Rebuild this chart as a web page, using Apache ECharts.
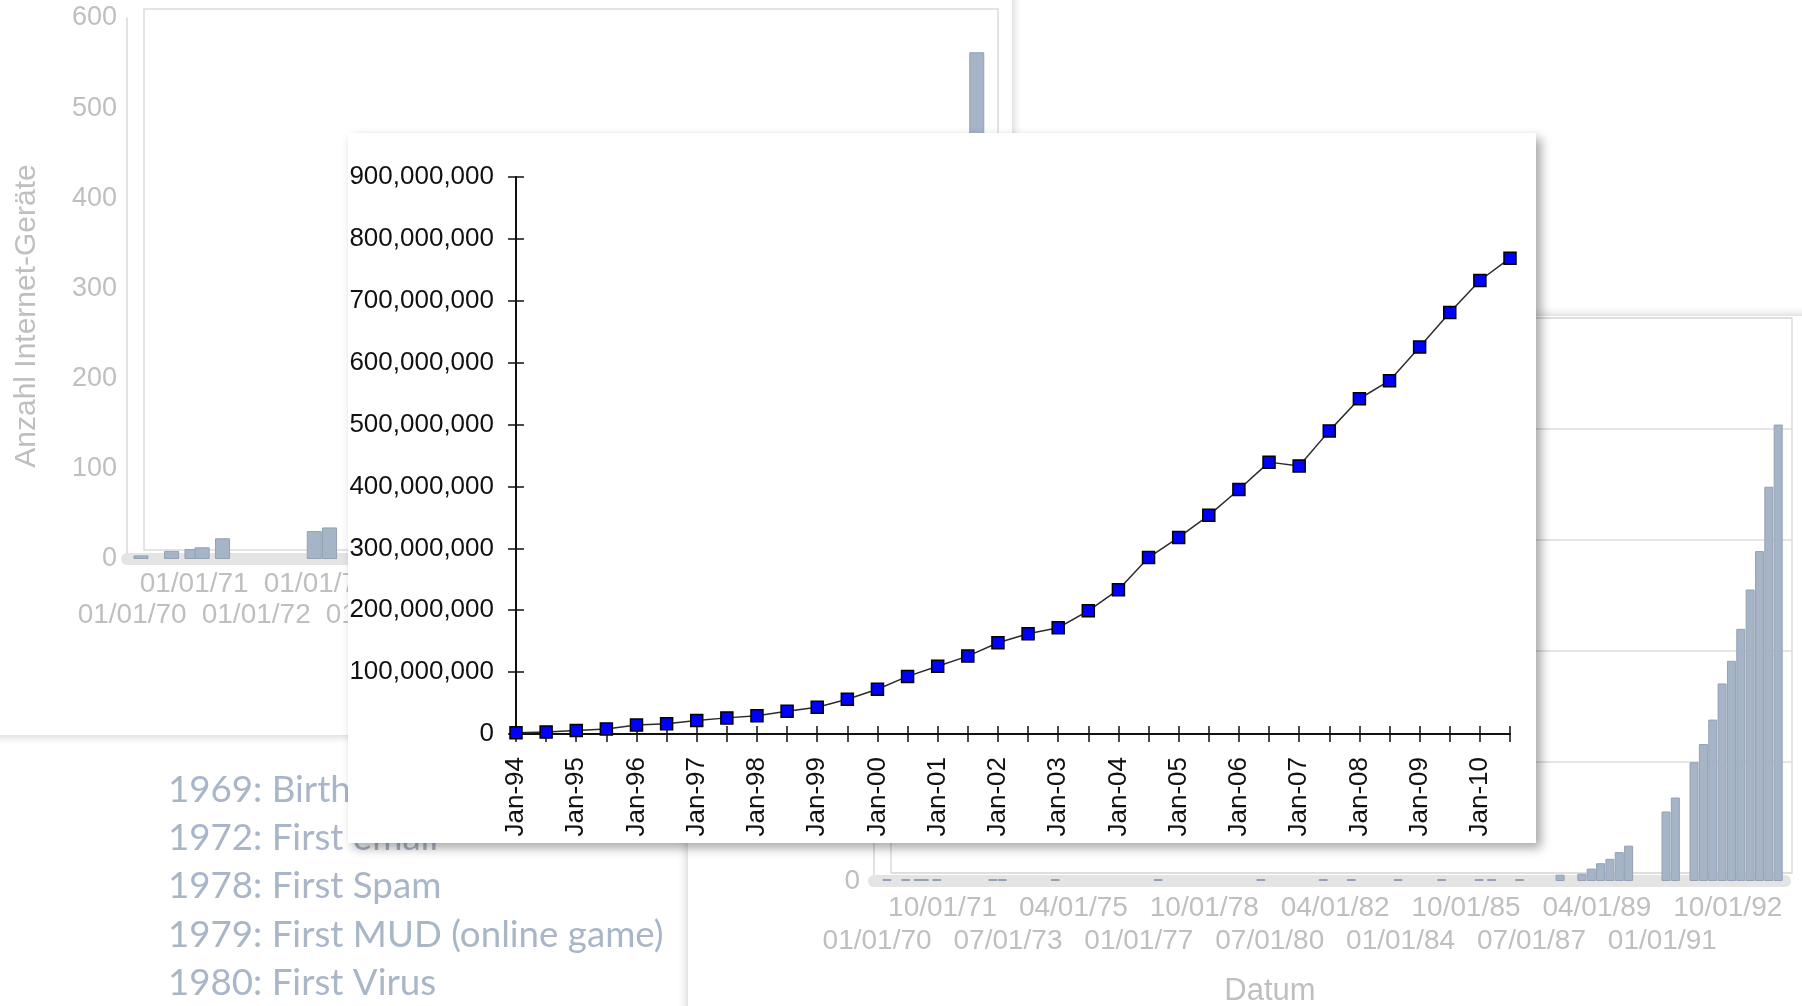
<!DOCTYPE html>
<html>
<head>
<meta charset="utf-8">
<script src="https://cdn.jsdelivr.net/npm/echarts@6/dist/echarts.min.js"></script>
<style>
  html, body { margin: 0; padding: 0; background: #ffffff; }
  #chart { width: 1802px; height: 1006px; }
</style>
</head>
<body>
<div id="chart"></div>
<script>
// Internet hosts, half-yearly survey counts 1994-2010
const periods = ['Jan-94','Jul-94','Jan-95','Jul-95','Jan-96','Jul-96','Jan-97','Jul-97','Jan-98','Jul-98',
  'Jan-99','Jul-99','Jan-00','Jul-00','Jan-01','Jul-01','Jan-02','Jul-02','Jan-03','Jul-03',
  'Jan-04','Jul-04','Jan-05','Jul-05','Jan-06','Jul-06','Jan-07','Jul-07','Jan-08','Jul-08',
  'Jan-09','Jul-09','Jan-10','Jul-10'];
const hostCounts = [2217000, 3212000, 5846000, 8200000, 14352000, 16729000, 21819000, 26053000, 29670000, 36739000,
  43230000, 56218000, 72398000, 93048000, 109574000, 125888000, 147345000, 162128000, 171638000, 199000000,
  233101000, 285139000, 317646000, 353284000, 394992000, 439286000, 433193000, 489774000, 541677000, 570938000,
  625226000, 681065000, 732740000, 768913000];

// Early host counts (ARPANET era up to 1993), dates as MM/YY
const surveyDates = ['12/69','06/70','10/70','12/70','04/71','10/72','01/73','06/74','03/77','12/79',
  '08/81','05/82','08/83','10/84','10/85','02/86','11/86','12/87','07/88','10/88',
  '01/89','04/89','07/89','10/89','10/90','01/91','07/91','10/91','01/92','04/92',
  '07/92','10/92','01/93','04/93','07/93','10/93'];
const surveyHosts = [4, 9, 11, 13, 23, 31, 35, 62, 111, 188,
  213, 235, 562, 1024, 1961, 2308, 5089, 28174, 33000, 56000,
  80000, 100000, 130000, 159000, 313000, 376000, 535000, 617000, 727000, 890000,
  992000, 1136000, 1313000, 1486000, 1776000, 2056000];
const arpanetCount = 13; // the small chart only runs up to 08/83

// Date tick labels of the two bar charts
const leftTickDates = ['01/70','01/71','01/72','01/73','01/74','01/75','01/76','01/77','01/78','01/79','01/80','01/81','01/82','01/83'];
const rightTickDates = ['01/70','10/71','07/73','04/75','01/77','10/78','07/80','04/82','01/84','10/85','07/87','04/89','01/91','10/92'];

const milestones = ['1969: Birth', '1972: First email', '1978: First Spam', '1979: First MUD (online game)', '1980: First Virus'];

const toYear = d => { const p = d.split('/').map(Number); return 1900 + p[1] + (p[0] - 1) / 12; };
const firstYear = toYear(surveyDates[0]);
const dateText = d => { const p = d.split('/'); return p[0] + '/01/' + p[1]; };

// the date labels are staggered on two rows: even ticks below, odd ticks above
const evenTicks = ticks => ticks.filter((_, i) => i % 2 === 0);
const oddTicks = ticks => ticks.filter((_, i) => i % 2 === 1);
function labelFor(ticks) {
  const vals = ticks.map(toYear);
  return v => {
    const i = vals.findIndex(t => Math.abs(t - v) < 1e-6);
    return i < 0 ? '' : dateText(ticks[i]);
  };
}

const sans = 'Liberation Sans, Arial, sans-serif';
const faint = '#bfbfbf';
const barStyle = { color: '#a5b4c7', borderColor: '#93a1b2', borderWidth: 1 };
const hidden = (extra) => Object.assign({ show: false }, extra);
const floorLine = { show: true, lineStyle: { color: '#e4e4e4', width: 12 } };

function dateRow(grid, max, ticks, margin, lineHeight, withFloor) {
  return {
    gridIndex: grid, type: 'value', min: firstYear, max: max, z: 1, position: 'bottom', offset: 0,
    axisLine: withFloor ? floorLine : { show: false },
    axisTick: { show: false }, splitLine: { show: false },
    axisLabel: { customValues: ticks.map(toYear), formatter: labelFor(ticks),
      showMinLabel: true, showMaxLabel: true,
      color: faint, fontSize: 28, lineHeight: lineHeight, margin: margin, fontFamily: sans }
  };
}

const earlyBars = surveyDates.slice(0, arpanetCount).map((d, i) => [toYear(d), surveyHosts[i]]);
const allBars = surveyDates.map((d, i) => [toYear(d), surveyHosts[i]]);

const chart = echarts.init(document.getElementById('chart'));

chart.setOption({
  animation: false,
  backgroundColor: '#ffffff',
  grid: [
    // small bar chart, front plane / back wall / bars
    { left: 127, top: 18, width: 861, height: 541, show: false, z: 1 },
    { left: 144, top: 9, width: 854, height: 541, show: true, borderColor: '#dcdcdc', borderWidth: 1.5, backgroundColor: 'transparent', z: 1 },
    { left: 141, top: 18, width: 849, height: 541, show: false, z: 1 },
    // large bar chart, front plane / back wall / bars
    { left: 874, top: 326, width: 911, height: 555, show: false, z: 1 },
    { left: 891, top: 318, width: 901, height: 555, show: true, borderColor: '#dcdcdc', borderWidth: 1.5, backgroundColor: 'transparent', z: 1 },
    { left: 887, top: 326, width: 911, height: 555, show: false, z: 1 },
    // host count line chart
    { left: 516, top: 177, width: 994, height: 557, show: false, z: 5 }
  ],
  xAxis: [
    dateRow(0, 1983.8, oddTicks(leftTickDates), 9.5, 31, true),
    dateRow(0, 1983.8, evenTicks(leftTickDates), 40.5, 31, false),
    hidden({ gridIndex: 1, type: 'value', min: firstYear, max: 1983.8 }),
    hidden({ gridIndex: 2, type: 'value', min: firstYear, max: 1983.8 }),
    dateRow(3, 1994.28, oddTicks(rightTickDates), 10, 34, true),
    dateRow(3, 1994.28, evenTicks(rightTickDates), 43.6, 34, false),
    hidden({ gridIndex: 4, type: 'value', min: firstYear, max: 1994.28 }),
    hidden({ gridIndex: 5, type: 'value', min: firstYear, max: 1994.28 }),
    { gridIndex: 6, type: 'category', data: periods, boundaryGap: false, z: 6, position: 'bottom',
      axisLine: { show: true, lineStyle: { color: '#111111', width: 2 } },
      axisTick: { show: true, interval: 0, length: 8, lineStyle: { color: '#111111', width: 1.5 } },
      axisLabel: { interval: 1, rotate: 90, margin: 23, fontSize: 26, color: '#111111', fontFamily: sans },
      splitLine: { show: false } },
    { gridIndex: 6, type: 'category', data: periods, boundaryGap: false, z: 6, position: 'bottom', offset: 0,
      axisLine: { show: false },
      axisTick: { show: true, inside: true, interval: 0, length: 8, lineStyle: { color: '#111111', width: 1.5 } },
      axisLabel: { show: false }, splitLine: { show: false } }
  ],
  yAxis: [
    { gridIndex: 0, type: 'value', min: 0, max: 600, interval: 100, z: 1, position: 'left',
      axisLine: { show: true, lineStyle: { color: '#d9d9d9', width: 1.5 } },
      axisTick: { show: false }, splitLine: { show: false },
      axisLabel: { color: faint, fontSize: 27, margin: 10, fontFamily: sans } },
    hidden({ gridIndex: 1, type: 'value', min: 0, max: 600 }),
    hidden({ gridIndex: 2, type: 'value', min: 0, max: 600 }),
    { gridIndex: 3, type: 'value', min: 0, max: 2500000, interval: 500000, z: 1, position: 'left',
      axisLine: { show: true, lineStyle: { color: '#d9d9d9', width: 1.5 } },
      axisTick: { show: false }, splitLine: { show: false },
      axisLabel: { color: faint, fontSize: 28, margin: 14, fontFamily: sans } },
    { gridIndex: 4, type: 'value', min: 0, max: 2500000, interval: 500000, z: 1,
      axisLine: { show: false }, axisTick: { show: false }, axisLabel: { show: false },
      splitLine: { show: true, lineStyle: { color: '#dcdcdc', width: 1.5 } } },
    hidden({ gridIndex: 5, type: 'value', min: 0, max: 2500000 }),
    { gridIndex: 6, type: 'value', min: 0, max: 900000000, interval: 100000000, z: 6, position: 'left',
      axisLine: { show: true, lineStyle: { color: '#111111', width: 2 } },
      axisTick: { show: true, length: 8, lineStyle: { color: '#111111', width: 1.5 } },
      axisLabel: { margin: 22, fontSize: 26, color: '#111111', fontFamily: sans,
        formatter: v => v.toLocaleString('en-US') },
      splitLine: { show: false } },
    { gridIndex: 6, type: 'value', min: 0, max: 900000000, interval: 100000000, z: 6, position: 'left', offset: 0,
      axisLine: { show: false },
      axisTick: { show: true, inside: true, length: 8, lineStyle: { color: '#111111', width: 1.5 } },
      axisLabel: { show: false }, splitLine: { show: false } }
  ],
  series: [
    { type: 'bar', xAxisIndex: 3, yAxisIndex: 2, data: earlyBars, barWidth: 15,
      itemStyle: barStyle, z: 2, silent: true },
    { type: 'bar', xAxisIndex: 7, yAxisIndex: 5, data: allBars, barWidth: 9, barMinHeight: 2,
      itemStyle: barStyle, z: 2, silent: true },
    { type: 'line', xAxisIndex: 8, yAxisIndex: 6, data: hostCounts, z: 7,
      symbol: 'rect', symbolSize: 12, showAllSymbol: true,
      lineStyle: { color: '#2b2b2b', width: 1.5 },
      itemStyle: { color: '#0000ff', borderColor: '#000000', borderWidth: 1.5 } }
  ],
  graphic: [
    // slide cards
    { type: 'rect', z: 0, shape: { x: -20, y: -20, width: 1032, height: 755 },
      style: { fill: '#ffffff', shadowBlur: 10, shadowColor: 'rgba(0,0,0,0.22)' } },
    { type: 'rect', z: 0, shape: { x: 688, y: 316, width: 1140, height: 720 },
      style: { fill: '#ffffff', shadowBlur: 10, shadowColor: 'rgba(0,0,0,0.22)' } },
    { type: 'text', z: 1, x: 27, y: 316, rotation: Math.PI / 2,
      style: { text: 'Anzahl Internet-Geräte', fontSize: 30, fontFamily: sans, fill: faint, align: 'center', verticalAlign: 'middle' } },
    { type: 'text', z: 1, x: 1270, y: 991,
      style: { text: 'Datum', fontSize: 31, fontFamily: sans, fill: faint, align: 'center', verticalAlign: 'middle' } },
    ...milestones.map((t, i) => ({ type: 'text', z: 3, x: 168, y: 790 + i * 48.3,
      style: { text: t, fontSize: 36.7, fontFamily: 'Lato, Open Sans, sans-serif', fill: '#a9b6c8', align: 'left', verticalAlign: 'middle' } })),
    { type: 'rect', z: 4, shape: { x: 348, y: 133, width: 1188, height: 710 },
      style: { fill: '#ffffff', shadowBlur: 10, shadowOffsetX: 5, shadowOffsetY: 5, shadowColor: 'rgba(0,0,0,0.35)' } }
  ]
});
</script>
</body>
</html>
